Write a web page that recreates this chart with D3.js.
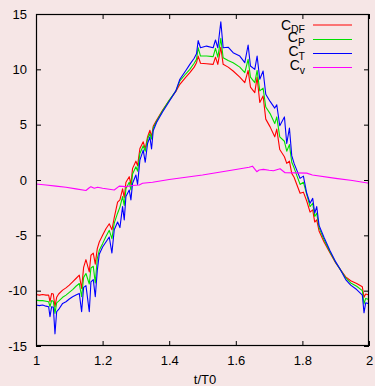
<!DOCTYPE html>
<html>
<head>
<meta charset="utf-8">
<script src="https://cdn.jsdelivr.net/npm/d3@7"></script>
<style>
  html, body { margin: 0; padding: 0; background: #f6e6e6; }
  svg { display: block; }
  text { font-family: "Liberation Sans", Arial, Helvetica, sans-serif; fill: #000; }
</style>
</head>
<body>
<svg id="chart" width="375" height="386"></svg>
<script>
// Time samples (t/T0) shared by the three force coefficient curves
const tGrid = [
  1.000, 1.010, 1.020, 1.030, 1.038, 1.042, 1.047, 1.052, 1.057, 1.062,
  1.068, 1.080, 1.090, 1.100, 1.110, 1.120, 1.130, 1.137, 1.143, 1.150,
  1.160, 1.165, 1.172, 1.178, 1.184, 1.190, 1.200, 1.210, 1.220, 1.228,
  1.235, 1.245, 1.252, 1.260, 1.265, 1.270, 1.280, 1.285, 1.290, 1.300,
  1.305, 1.312, 1.322, 1.328, 1.335, 1.342, 1.347, 1.352, 1.362, 1.380,
  1.400, 1.420, 1.432, 1.450, 1.462, 1.475, 1.482, 1.487, 1.494, 1.512,
  1.532, 1.539, 1.546, 1.555, 1.562, 1.577, 1.592, 1.612, 1.627, 1.637,
  1.644, 1.657, 1.664, 1.672, 1.682, 1.690, 1.703, 1.717, 1.723, 1.732,
  1.746, 1.753, 1.761, 1.768, 1.775, 1.793, 1.803, 1.813, 1.823, 1.831,
  1.837, 1.843, 1.850, 1.865, 1.883, 1.900, 1.913, 1.930, 1.945, 1.963,
  1.980, 1.985, 1.990, 2.000
];
const cDF = [
  -10.35, -10.40, -10.35, -10.40, -10.40, -11.00, -10.25, -10.30, -11.45, -10.60,
  -10.30, -9.95, -9.75, -9.50, -9.20, -8.90, -8.60, -9.80, -7.90, -7.20,
  -8.30, -6.80, -6.60, -7.60, -6.20, -5.60, -5.00, -4.40, -3.95, -4.50,
  -3.40, -2.00, -1.80, -0.80, -1.60, -0.20, 0.30, -0.40, 1.05, 1.70,
  1.30, 2.85, 3.45, 2.80, 3.90, 4.50, 3.90, 4.85, 5.40, 6.30,
  7.20, 8.00, 8.65, 9.30, 9.70, 10.20, 10.60, 11.20, 10.55, 10.50,
  10.45, 11.10, 10.45, 12.00, 10.45, 10.20, 9.85, 9.30, 8.80, 9.90,
  8.40, 7.90, 9.30, 7.00, 7.60, 5.50, 4.80, 3.90, 4.60, 2.75,
  2.10, 1.50, 1.70, 0.60, 0.25, -1.20, -1.10, -1.90, -2.90, -2.70,
  -3.80, -3.60, -4.60, -5.60, -6.60, -7.50, -8.05, -8.75, -9.10, -9.35,
  -9.65, -10.60, -10.30, -10.40
];
const cP = [
  -10.85, -10.90, -10.90, -10.95, -11.00, -11.45, -10.90, -10.95, -12.05, -11.10,
  -10.95, -10.60, -10.40, -10.15, -9.90, -9.60, -9.35, -10.55, -8.80, -8.45,
  -9.40, -7.95, -7.80, -9.30, -7.10, -6.35, -5.75, -5.10, -4.55, -5.30,
  -3.90, -3.00, -2.45, -1.50, -2.30, -0.80, -0.20, -0.90, 0.55, 1.20,
  0.80, 2.40, 3.10, 2.60, 3.70, 4.20, 3.70, 4.70, 5.30, 6.25,
  7.20, 8.05, 8.95, 9.60, 10.00, 10.55, 10.90, 11.95, 11.20, 11.20,
  11.15, 11.90, 11.10, 12.80, 11.05, 10.80, 10.60, 10.20, 9.70, 10.90,
  9.30, 8.80, 9.90, 8.05, 8.30, 6.60, 6.00, 5.10, 5.70, 3.90,
  3.50, 2.60, 3.20, 1.60, 1.10, -0.40, -0.20, -1.30, -2.40, -2.10,
  -3.30, -3.00, -4.30, -5.40, -6.50, -7.45, -8.05, -8.85, -9.30, -9.60,
  -10.00, -11.20, -10.70, -10.80
];
const cT = [
  -11.30, -11.35, -11.30, -11.40, -11.45, -12.35, -11.45, -11.50, -13.90, -11.90,
  -11.70, -11.15, -11.00, -10.75, -10.55, -10.40, -10.25, -11.90, -9.70, -9.55,
  -11.90, -9.20, -9.00, -10.55, -8.20, -6.70, -6.05, -5.60, -5.15, -6.60,
  -4.50, -3.80, -4.30, -2.40, -3.60, -1.50, -0.90, -1.80, -0.30, 0.45,
  -0.40, 1.80, 2.70, 1.60, 3.30, 3.90, 2.80, 4.45, 5.20, 6.15,
  7.10, 8.05, 9.10, 9.90, 10.45, 11.00, 11.40, 12.60, 11.95, 12.10,
  11.95, 12.65, 11.95, 14.30, 11.95, 12.00, 11.50, 11.20, 10.60, 12.20,
  10.30, 10.00, 11.20, 9.10, 9.85, 7.75, 7.10, 6.50, 6.80, 4.90,
  5.70, 3.30, 4.70, 2.20, 1.50, 0.15, 0.35, -1.20, -2.10, -1.66,
  -3.00, -2.40, -4.10, -5.20, -6.40, -7.40, -8.05, -9.00, -9.50, -9.90,
  -10.40, -12.00, -11.10, -11.20
];

// Cv has its own, coarser sampling
const tV = [
  1.000, 1.030, 1.060, 1.090, 1.120, 1.150, 1.160, 1.165, 1.175, 1.185,
  1.200, 1.235, 1.250, 1.270, 1.290, 1.310, 1.320, 1.350, 1.400, 1.450,
  1.500, 1.550, 1.600, 1.640, 1.650, 1.663, 1.670, 1.683, 1.700, 1.713,
  1.733, 1.748, 1.780, 1.813, 1.830, 1.900, 1.950, 2.000
];
const cV = [
  -0.36, -0.45, -0.55, -0.65, -0.80, -0.95, -0.70, -0.60, -0.75, -0.65,
  -0.75, -0.90, -0.55, -0.60, -0.50, -0.45, -0.30, -0.20, 0.05, 0.25,
  0.45, 0.70, 0.95, 1.15, 1.25, 0.75, 0.90, 0.96, 0.88, 0.84,
  1.02, 0.66, 0.64, 0.62, 0.45, 0.15, -0.05, -0.30
];

const xTicks = [1, 1.2, 1.4, 1.6, 1.8, 2];
const xTickLabels = ["1", "1.2", "1.4", "1.6", "1.8", "2"];
const yTicks = [-15, -10, -5, 0, 5, 10, 15];
const yTickLabels = ["-15", "-10", "-5", "0", "5", "10", "15"];

const seriesNames = ["DF", "P", "T", "v"];
const seriesColors = ["#ff0000", "#00e000", "#0000ff", "#ff00ff"];
const xTitle = "t/T0";

const svg = d3.select("#chart");
const plot = { left: 36, right: 369, top: 14, bottom: 346 };

const x = d3.scaleLinear().domain([1, 2]).range([plot.left, plot.right]);
const y = d3.scaleLinear().domain([-15, 15]).range([plot.bottom, plot.top]);

svg.append("rect").attr("width", 375).attr("height", 386).attr("fill", "#f6e6e6");

svg.append("defs").append("clipPath").attr("id", "plotclip")
  .append("rect")
  .attr("x", plot.left).attr("y", plot.top)
  .attr("width", plot.right - plot.left).attr("height", plot.bottom - plot.top);

// Axes with inward ticks on all four sides
const tickLen = 5;
const fmtX = (d) => xTickLabels[xTicks.indexOf(d)];
const fmtY = (d) => yTickLabels[yTicks.indexOf(d)];

const axBottom = svg.append("g").attr("transform", `translate(0,${plot.bottom})`)
  .call(d3.axisBottom(x).tickValues(xTicks).tickFormat(fmtX).tickSizeInner(-tickLen).tickSizeOuter(0).tickPadding(10));
const axTop = svg.append("g").attr("transform", `translate(0,${plot.top})`)
  .call(d3.axisTop(x).tickValues(xTicks).tickFormat("").tickSizeInner(-tickLen).tickSizeOuter(0));
const axLeft = svg.append("g").attr("transform", `translate(${plot.left},0)`)
  .call(d3.axisLeft(y).tickValues(yTicks).tickFormat(fmtY).tickSizeInner(-tickLen).tickSizeOuter(0).tickPadding(9));
const axRight = svg.append("g").attr("transform", `translate(${plot.right},0)`)
  .call(d3.axisRight(y).tickValues(yTicks).tickFormat("").tickSizeInner(-tickLen).tickSizeOuter(0));

[axBottom, axTop, axLeft, axRight].forEach(g => {
  g.select(".domain").remove();
  g.selectAll(".tick line").attr("stroke", "#000").attr("stroke-width", 1);
  g.selectAll("text").attr("font-size", 13).attr("font-family", "Liberation Sans, Arial, sans-serif").attr("fill", "#000");
});

// Curves
const line = d3.line().x(d => x(d[0])).y(d => y(d[1]));
const curves = [
  tGrid.map((t, i) => [t, cDF[i]]),
  tGrid.map((t, i) => [t, cP[i]]),
  tGrid.map((t, i) => [t, cT[i]]),
  tV.map((t, i) => [t, cV[i]])
];
const gLines = svg.append("g").attr("clip-path", "url(#plotclip)");
curves.forEach((pts, i) => {
  gLines.append("path")
    .attr("d", line(pts))
    .attr("fill", "none")
    .attr("stroke", seriesColors[i])
    .attr("stroke-width", 1.1)
    .attr("stroke-linejoin", "round");
});

// Frame
svg.append("rect")
  .attr("x", plot.left + 0.5).attr("y", plot.top + 0.5)
  .attr("width", plot.right - plot.left - 1).attr("height", plot.bottom - plot.top - 1)
  .attr("fill", "none").attr("stroke", "#000").attr("stroke-width", 1.2);

// Legend: "C" with the series subscript, followed by a line sample
const legendRowY = [25, 39.5, 53.5, 67.5];
const legendTextDy = [4.5, 2.5, 2.5, 2.5];
const legend = svg.append("g");
seriesNames.forEach((name, i) => {
  const ly = legendRowY[i];
  const txt = legend.append("text")
    .attr("x", 305).attr("y", ly + legendTextDy[i])
    .attr("text-anchor", "end")
    .attr("font-size", 14);
  txt.append("tspan").text("C");
  txt.append("tspan").attr("dy", 3.5).attr("font-size", 10.5).text(name);
  legend.append("line")
    .attr("x1", 313).attr("x2", 352)
    .attr("y1", ly).attr("y2", ly)
    .attr("stroke", seriesColors[i]).attr("stroke-width", 1.1);
});

// Axis title
svg.append("text")
  .attr("x", 205).attr("y", 384)
  .attr("text-anchor", "middle")
  .attr("font-size", 13)
  .text(xTitle);
</script>
</body>
</html>
